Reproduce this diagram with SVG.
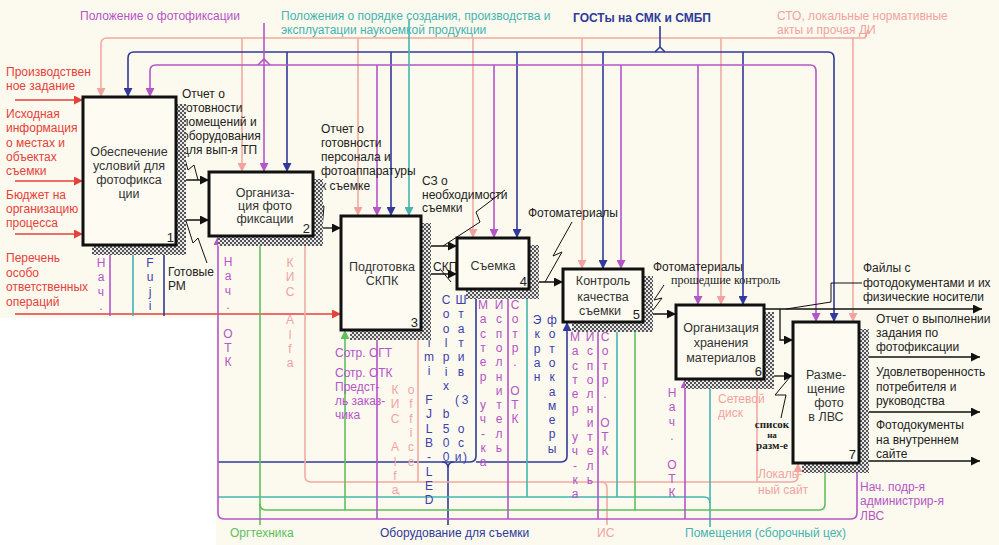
<svg xmlns="http://www.w3.org/2000/svg" width="999" height="545" viewBox="0 0 999 545">
<defs>
<style>
text{font-family:"Liberation Sans",Arial,sans-serif;font-size:12px}
.box{fill:#fdfbf2;stroke:#111;stroke-width:3}
.bt{fill:#333;font-size:12.5px;text-anchor:middle}
.num{fill:#222;font-size:13px;text-anchor:end}
.sh{fill:url(#hatch)}
.c{fill:none;stroke-width:1.6}
.r{stroke:#e6413b}.pk{stroke:#f2aaa2}.bl{stroke:#2f3a9c}.pu{stroke:#b455c8}.te{stroke:#45b4b1}.gr{stroke:#5ec05e}
.k{fill:none;stroke:#111;stroke-width:1.3}
.sq{fill:none;stroke:#111;stroke-width:1}
.tr{fill:#e6413b}.tpk{fill:#f2a3a0}.tbl{fill:#2f3a9c}.tvb{fill:#3b3fb0}.tpu{fill:#b455c8}.tte{fill:#45b4b1}.tgr{fill:#5ec05e}.tk{fill:#222}
.v{text-anchor:middle}
.ser{font-family:"Liberation Serif","Times New Roman",serif}
</style>
<pattern id="hatch" width="4" height="4" patternUnits="userSpaceOnUse"><rect width="4" height="4" fill="#e6e6e6"/><rect width="2" height="2" fill="#555"/><rect x="2" y="2" width="2" height="2" fill="#555"/></pattern>
<marker id="ar" viewBox="0 0 10 10" refX="10" refY="5" markerWidth="9" markerHeight="9" markerUnits="userSpaceOnUse" orient="auto"><path d="M0,0 L10,5 L0,10 z" fill="#e6413b"/></marker>
<marker id="apk" viewBox="0 0 10 10" refX="10" refY="5" markerWidth="9" markerHeight="9" markerUnits="userSpaceOnUse" orient="auto"><path d="M0,0 L10,5 L0,10 z" fill="#f2a3a0"/></marker>
<marker id="abl" viewBox="0 0 10 10" refX="10" refY="5" markerWidth="9" markerHeight="9" markerUnits="userSpaceOnUse" orient="auto"><path d="M0,0 L10,5 L0,10 z" fill="#2f3a9c"/></marker>
<marker id="apu" viewBox="0 0 10 10" refX="10" refY="5" markerWidth="9" markerHeight="9" markerUnits="userSpaceOnUse" orient="auto"><path d="M0,0 L10,5 L0,10 z" fill="#b455c8"/></marker>
<marker id="ate" viewBox="0 0 10 10" refX="10" refY="5" markerWidth="9" markerHeight="9" markerUnits="userSpaceOnUse" orient="auto"><path d="M0,0 L10,5 L0,10 z" fill="#45b4b1"/></marker>
<marker id="agr" viewBox="0 0 10 10" refX="10" refY="5" markerWidth="9" markerHeight="9" markerUnits="userSpaceOnUse" orient="auto"><path d="M0,0 L10,5 L0,10 z" fill="#5ec05e"/></marker>
<marker id="ak" viewBox="0 0 10 10" refX="10" refY="5" markerWidth="10" markerHeight="9" markerUnits="userSpaceOnUse" orient="auto"><path d="M0,0 L10,5 L0,10 z" fill="#111"/></marker>
</defs>

<rect width="999" height="545" fill="#fcf9ee"/>
<rect x="0" y="318" width="216" height="227" fill="#ffffff"/>

<g id="connectors">
<path class="c r" d="M15,100 H83" marker-end="url(#ar)"/>
<path class="c r" d="M15,181 H83" marker-end="url(#ar)"/>
<path class="c r" d="M15,234 H83" marker-end="url(#ar)"/>
<path class="c r" d="M15,314 H341" marker-end="url(#ar)"/>

<path class="c pk" d="M868,30 L865,38 H107 Q101,38 101,44 V97" marker-end="url(#apk)"/>
<path class="c pk" d="M242,38 V172" marker-end="url(#apk)"/>
<path class="c pk" d="M358,38 V216" marker-end="url(#apk)"/>
<path class="c pk" d="M473,38 V238" marker-end="url(#apk)"/>
<path class="c pk" d="M582,38 V269" marker-end="url(#apk)"/>
<path class="c pk" d="M721,38 V305" marker-end="url(#apk)"/>
<path class="c pk" d="M853,38 V322" marker-end="url(#apk)"/>

<path class="c bl" d="M660,26 V47 L655,52 M660,47 L665,52"/>
<path class="c bl" d="M128,58 Q128,52 134,52 H828 Q834,52 834,58"/>
<path class="c bl" d="M128,58 V97" marker-end="url(#abl)"/>
<path class="c bl" d="M834,58 V322" marker-end="url(#abl)"/>
<path class="c bl" d="M287,52 V172" marker-end="url(#abl)"/>
<path class="c bl" d="M391,52 V216" marker-end="url(#abl)"/>
<path class="c bl" d="M517,52 V238" marker-end="url(#abl)"/>
<path class="c bl" d="M603,52 V269" marker-end="url(#abl)"/>
<path class="c bl" d="M743,52 V305" marker-end="url(#abl)"/>

<path class="c pu" d="M150,71 Q150,65 156,65 H810 Q816,65 816,71"/>
<path class="c pu" d="M150,71 V97" marker-end="url(#apu)"/>
<path class="c pu" d="M816,71 V322" marker-end="url(#apu)"/>
<path class="c pu" d="M264,23 V172" marker-end="url(#apu)"/>
<path class="c pu" d="M258,65 L264,59 L270,65"/>
<path class="c pu" d="M377,65 V216" marker-end="url(#apu)"/>
<path class="c pu" d="M494,65 V238" marker-end="url(#apu)"/>
<path class="c pu" d="M621,65 V269" marker-end="url(#apu)"/>
<path class="c pu" d="M698,65 V305" marker-end="url(#apu)"/>

<path class="c te" d="M409,20 V216" marker-end="url(#ate)"/>

<path class="c pu" d="M110,316 V245" marker-end="url(#apu)"/>
<path class="c te" d="M133,316 V245" marker-end="url(#ate)"/>
<path class="c bl" d="M164,316 V245" marker-end="url(#abl)"/>

<path class="c bl" d="M218,462 H470 Q476,462 476,456 M476,462 H561 Q567,462 567,456"/>
<path class="c bl" d="M476,456 V289" marker-end="url(#abl)"/>
<path class="c bl" d="M567,456 V322" marker-end="url(#abl)"/>
<path class="c bl" d="M448,525 V468 Q448,462 442,462 M448,468 Q448,462 454,462"/>

<path class="c pk" d="M305,476 Q305,482 311,482 H792 Q798,482 798,476"/>
<path class="c pk" d="M305,476 V236" marker-end="url(#apk)"/>
<path class="c pk" d="M798,476 V463" marker-end="url(#apk)"/>
<path class="c pk" d="M418,482 V330" marker-end="url(#apk)"/>
<path class="c pk" d="M757,482 V379" marker-end="url(#apk)"/>
<path class="c pk" d="M607,525 V488 Q607,482 601,482"/>

<path class="c te" d="M218,497 H704 Q710,497 710,503"/>
<path class="c te" d="M710,527 V379" marker-end="url(#ate)"/>
<path class="c te" d="M527,497 V289" marker-end="url(#ate)"/>
<path class="c te" d="M617,497 V322" marker-end="url(#ate)"/>

<path class="c gr" d="M260,504 Q260,510 266,510 H819 Q825,510 825,504"/>
<path class="c gr" d="M260,525 V236" marker-end="url(#agr)"/>
<path class="c gr" d="M825,504 V463" marker-end="url(#agr)"/>
<path class="c gr" d="M345,510 V330" marker-end="url(#agr)"/>
<path class="c gr" d="M635,510 V322" marker-end="url(#agr)"/>

<path class="c pu" d="M218,513 Q218,519 224,519 H851 Q857,519 857,513"/>
<path class="c pu" d="M218,513 V236" marker-end="url(#apu)"/>
<path class="c pu" d="M857,513 V463" marker-end="url(#apu)"/>
<path class="c pu" d="M377,519 V330" marker-end="url(#apu)"/>
<path class="c pu" d="M508,519 V289" marker-end="url(#apu)"/>
<path class="c pu" d="M598,519 V322" marker-end="url(#apu)"/>
<path class="c pu" d="M685,519 V379" marker-end="url(#apu)"/>

<path class="k" d="M176,180 H209" marker-end="url(#ak)"/>
<path class="k" d="M176,220 H209" marker-end="url(#ak)"/>
<path class="k" d="M313,228 H341" marker-end="url(#ak)"/>
<path class="k" d="M421,246 H457" marker-end="url(#ak)"/>
<path class="k" d="M421,274 H457" marker-end="url(#ak)"/>
<path class="k" d="M529,282 H563" marker-end="url(#ak)"/>
<path class="k" d="M643,314 H676" marker-end="url(#ak)"/>
<path class="k" d="M764,309 H982" marker-end="url(#ak)"/>
<path class="k" d="M780,309 V340 H793" marker-end="url(#ak)"/>
<path class="k" d="M764,376 H793" marker-end="url(#ak)"/>
<path class="k" d="M859,357 H980" marker-end="url(#ak)"/>
<path class="k" d="M859,412 H980" marker-end="url(#ak)"/>
<path class="k" d="M859,461 H980" marker-end="url(#ak)"/>

<path class="sq" d="M183,152 L188,170 L194,165 L198,180"/>
<path class="sq" d="M186,221 L193,243 L198,238 L207,263"/>
<path class="sq" d="M320,192 L316,205 L324,206 L322,228"/>
<path class="sq" d="M505,190 L476,212 L480,222 L443,246"/>
<path class="sq" d="M441,270 L451,282"/>
<path class="sq" d="M572,222 L553,256 L562,252 L545,282"/>
<path class="sq" d="M664,285 L654,300 L662,298 L650,314"/>
<path class="sq" d="M790,377 L775,395 L786,395 L781,418"/>
<path class="sq" d="M862,283 H831 V302 L786,309"/>
</g>

<g id="labels">
<text class="tr"><tspan x="6" y="76">Производствен</tspan><tspan x="6" y="90">ное задание</tspan></text>
<text class="tr"><tspan x="6" y="118">Исходная</tspan><tspan x="6" y="132">информация</tspan><tspan x="6" y="147">о местах и</tspan><tspan x="6" y="161">объектах</tspan><tspan x="6" y="175">съемки</tspan></text>
<text class="tr"><tspan x="6" y="199">Бюджет на</tspan><tspan x="6" y="213">организацию</tspan><tspan x="6" y="227">процесса</tspan></text>
<text class="tr"><tspan x="6" y="262">Перечень</tspan><tspan x="6" y="277">особо</tspan><tspan x="6" y="291">ответственных</tspan><tspan x="6" y="306">операций</tspan></text>

<text class="tpu" x="80" y="20">Положение о фотофиксации</text>
<text class="tte"><tspan x="281" y="20">Положения о порядке создания, производства и</tspan><tspan x="281" y="34">эксплуатации наукоемкой продукции</tspan></text>
<text class="tbl" x="573" y="22" font-weight="bold">ГОСТы на СМК и СМБП</text>
<text class="tpk"><tspan x="777" y="20">СТО, локальные нормативные</tspan><tspan x="777" y="34">акты и прочая ДИ</tspan></text>

<text class="tgr" x="230" y="537">Оргтехника</text>
<text class="tbl" x="380" y="537">Оборудование для съемки</text>
<text class="tpk" x="597" y="537">ИС</text>
<text class="tte" x="685" y="537">Помещения  (сборочный цех)</text>

<text class="tk"><tspan x="182" y="98">Отчет о</tspan><tspan x="182" y="112">готовности</tspan><tspan x="182" y="126">помещений и</tspan><tspan x="182" y="140">оборудования</tspan><tspan x="182" y="154">для вып-я ТП</tspan></text>
<text class="tk"><tspan x="168" y="276">Готовые</tspan><tspan x="168" y="290">РМ</tspan></text>
<text class="tk"><tspan x="321" y="133">Отчет о</tspan><tspan x="321" y="147">готовности</tspan><tspan x="321" y="161">персонала и</tspan><tspan x="321" y="175">фотоаппаратуры</tspan><tspan x="321" y="190">к съемке</tspan></text>
<text class="tk"><tspan x="422" y="185">СЗ о</tspan><tspan x="422" y="199">необходимости</tspan><tspan x="422" y="212">съемки</tspan></text>
<text class="tk" x="433" y="271">СКПК</text>
<text class="tk" x="528" y="217">Фотоматериалы</text>
<text class="tk" x="653" y="271">Фотоматериалы</text>
<text class="tk ser" x="671" y="284" font-size="12.5">прошедшие контроль</text>
<text class="tk ser v" font-weight="bold"><tspan x="772" y="428" font-size="11">список</tspan><tspan x="772" y="438" font-size="9">на</tspan><tspan x="772" y="449" font-size="11">разм-е</tspan></text>
<text class="tk"><tspan x="863" y="272">Файлы с</tspan><tspan x="863" y="287">фотодокументами и их</tspan><tspan x="863" y="301">физические носители</tspan></text>
<text class="tk"><tspan x="876" y="323">Отчет о выполнении</tspan><tspan x="876" y="337">задания по</tspan><tspan x="876" y="351">фотофиксации</tspan></text>
<text class="tk"><tspan x="876" y="376">Удовлетворенность</tspan><tspan x="876" y="391">потребителя и</tspan><tspan x="876" y="405">руководства</tspan></text>
<text class="tk"><tspan x="876" y="429">Фотодокументы</tspan><tspan x="876" y="444">на внутреннем</tspan><tspan x="876" y="458">сайте</tspan></text>

<text class="tpu"><tspan x="335" y="357">Сотр. ОГТ</tspan><tspan x="335" y="377">Сотр. ОТК</tspan><tspan x="335" y="391">Предст-</tspan><tspan x="335" y="405">ль заказ-</tspan><tspan x="335" y="419">чика</tspan></text>
<text class="tpk"><tspan x="718" y="403">Сетевой</tspan><tspan x="718" y="417">диск</tspan></text>
<text class="tpk"><tspan x="758" y="478">Локаль-</tspan><tspan x="758" y="494">ный сайт</tspan></text>
<text class="tpu"><tspan x="860" y="491">Нач. подр-я</tspan><tspan x="860" y="505">администрир-я</tspan><tspan x="860" y="520">ЛВС</tspan></text>

<text class="v tpu" x="101 101 101 101" y="267 281.3 295.6 309.9">Нач.</text>
<text class="v tvb" x="150 150 150 150" y="267 281.3 295.6 309.9">Fuji</text>
<text class="v tpu" x="228 228 228 228 228 228 228 228" y="266 280.3 294.6 308.9 323.2 337.5 351.8 366.1">Нач. ОТК</text>
<text class="v tpk" x="290 290 290 290 290 290 290 290" y="267 281.3 295.6 309.9 324.2 338.5 352.8 367.1">КИС Alfa</text>
<text class="v tpk" x="395 395 395 395 395 395 395 395 399" y="394 408.3 422.6 436.9 451.2 465.5 479.8 494.1 494.1">КИС Alfa,</text>
<text class="v tpk" x="411 411 411 411 411 411" y="394 408.3 422.6 436.9 451.2 465.5">office</text>
<text class="v tvb" x="429 429 429 429 429 429 429 429 429 429 429 429 429 429 429" y="303.9 318.2 332.5 346.8 361.1 375.4 389.7 404 418.3 432.6 446.9 461.2 475.5 489.8 504.1">ifilmi FJLB-LED</text>
<text class="v tvb" x="446 446 446 446 446 446 446 446 446 446 446 446" y="304 318.3 332.6 346.9 361.2 375.5 389.8 404.1 418.4 432.7 447 461.3">Coolpix b500</text>
<text class="v tvb" x="461 461 461 461 461 461 461 457 465 461 461 461 458 465" y="304 318.3 332.6 346.9 361.2 375.5 389.8 404.1 404.1 418.4 432.7 447 461.3 461.3">Штатив (3 оси)</text>
<text class="v tpu" x="483 483 483 483 483 483 483 483 483 483 483 483" y="309 323.3 337.6 351.9 366.2 380.5 394.8 409.1 423.4 437.7 452 466.3">Мастер уч-ка</text>
<text class="v tpu" x="499 499 499 499 499 499 499 499 499 499 499" y="309 323.3 337.6 351.9 366.2 380.5 394.8 409.1 423.4 437.7 452">Исполнитель</text>
<text class="v tpu" x="515 515 515 515 515 515 515 515 515" y="309 323.3 337.6 351.9 366.2 380.5 394.8 409.1 423.4">Сотр. ОТК</text>
<text class="v tvb" x="537 537 537 537 537" y="324 338.3 352.6 366.9 381.2">Экран</text>
<text class="v tvb" x="552 552 552 552 552 552 552 552 552 552" y="324 338.3 352.6 366.9 381.2 395.5 409.8 424.1 438.4 452.7">фотокамеры</text>
<text class="v tpu" x="575 575 575 575 575 575 575 575 575 575 575 575" y="341 355.3 369.6 383.9 398.2 412.5 426.8 441.1 455.4 469.7 484 498.3">Мастер уч-ка</text>
<text class="v tpu" x="590 590 590 590 590 590 590 590 590 590 590" y="341 355.3 369.6 383.9 398.2 412.5 426.8 441.1 455.4 469.7 484">Исполнитель</text>
<text class="v tpu" x="605 605 605 605 605 605 605 605 605" y="341 355.3 369.6 383.9 398.2 412.5 426.8 441.1 455.4">Сотр. ОТК</text>
<text class="v tpu" x="672 672 672 672 672 672 672 672" y="397 411.3 425.6 439.9 454.2 468.5 482.8 497.1">Нач. ОТК</text>
</g>

<g id="n1">
<path class="sh" d="M176,104 H186 V255 H92 V245 H176 Z"/>
<rect class="box" x="83" y="97" width="93" height="148"/>
<text class="bt"><tspan x="129" y="156">Обеспечение</tspan><tspan x="129" y="170">условий для</tspan><tspan x="129" y="184">фотофикса</tspan><tspan x="129" y="198">ции</tspan></text>
<text class="num" x="174" y="242">1</text>
</g>
<g id="n2">
<path class="sh" d="M313,179 H323 V246 H218 V236 H313 Z"/>
<rect class="box" x="209" y="172" width="104" height="64"/>
<text class="bt"><tspan x="265" y="197">Организа-</tspan><tspan x="265" y="210">ция фото</tspan><tspan x="265" y="223">фиксации</tspan></text>
<text class="num" x="310" y="233">2</text>
</g>
<g id="n3">
<path class="sh" d="M421,223 H431 V340 H350 V330 H421 Z"/>
<rect class="box" x="341" y="216" width="80" height="114"/>
<text class="bt"><tspan x="382" y="271">Подготовка</tspan><tspan x="382" y="285">СКПК</tspan></text>
<text class="num" x="418" y="327">3</text>
</g>
<g id="n4">
<path class="sh" d="M529,245 H539 V299 H466 V289 H529 Z"/>
<rect class="box" x="457" y="238" width="72" height="51"/>
<text class="bt" x="493" y="270">Съемка</text>
<text class="num" x="527" y="286">4</text>
</g>
<g id="n5">
<path class="sh" d="M643,276 H653 V332 H572 V322 H643 Z"/>
<rect class="box" x="563" y="269" width="80" height="53"/>
<text class="bt"><tspan x="603" y="285">Контроль</tspan><tspan x="603" y="301">качества</tspan><tspan x="600" y="315">съемки</tspan></text>
<text class="num" x="640" y="319">5</text>
</g>
<g id="n6">
<path class="sh" d="M764,312 H774 V389 H685 V379 H764 Z"/>
<rect class="box" x="676" y="305" width="88" height="74"/>
<text class="bt"><tspan x="721" y="332">Организация</tspan><tspan x="721" y="347">хранения</tspan><tspan x="721" y="362">материалов</tspan></text>
<text class="num" x="762" y="376">6</text>
</g>
<g id="n7">
<path class="sh" d="M859,329 H869 V473 H802 V463 H859 Z"/>
<rect class="box" x="793" y="322" width="66" height="141"/>
<text class="bt"><tspan x="826" y="379">Разме-</tspan><tspan x="826" y="393">щение</tspan><tspan x="829" y="407">фото</tspan><tspan x="826" y="421">в ЛВС</tspan></text>
<text class="num" x="856" y="459">7</text>
</g>
</svg>
